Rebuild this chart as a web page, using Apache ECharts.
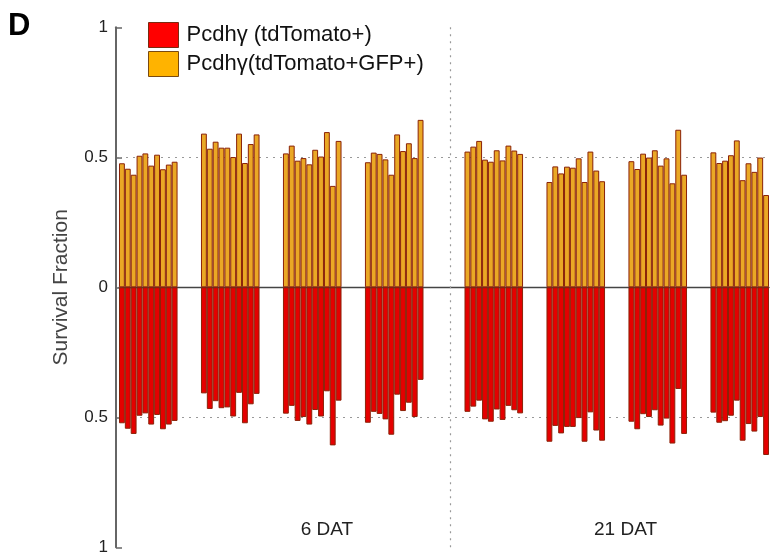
<!DOCTYPE html>
<html>
<head>
<meta charset="utf-8">
<script src="https://cdn.jsdelivr.net/npm/echarts@6/dist/echarts.min.js"></script>
<style>
html,body{margin:0;padding:0;background:#fff;}
#chart{width:772px;height:556px;}
</style>
</head>
<body>
<div id="chart"></div>
<script>
// Survival fraction, Pcdhγ(tdTomato+GFP+) — orange bars (upward), 4 groups of 10 at each time point
const gfp6DAT = [
  [0.477, 0.456, 0.433, 0.506, 0.515, 0.468, 0.510, 0.454, 0.472, 0.483],
  [0.591, 0.533, 0.560, 0.537, 0.537, 0.501, 0.591, 0.478, 0.551, 0.588],
  [0.515, 0.545, 0.487, 0.497, 0.473, 0.529, 0.503, 0.597, 0.390, 0.563],
  [0.481, 0.518, 0.513, 0.492, 0.433, 0.588, 0.524, 0.554, 0.497, 0.644]
];
const gfp21DAT = [
  [0.522, 0.541, 0.563, 0.491, 0.483, 0.527, 0.488, 0.545, 0.526, 0.513],
  [0.405, 0.465, 0.438, 0.464, 0.460, 0.496, 0.405, 0.522, 0.449, 0.408],
  [0.485, 0.455, 0.514, 0.499, 0.527, 0.468, 0.496, 0.400, 0.606, 0.433],
  [0.519, 0.478, 0.487, 0.508, 0.565, 0.412, 0.477, 0.444, 0.499, 0.355]
];
// Survival fraction, Pcdhγ(tdTomato+) — red bars (drawn downward)
const tom6DAT = [
  [0.523, 0.544, 0.564, 0.494, 0.485, 0.528, 0.491, 0.546, 0.528, 0.514],
  [0.408, 0.468, 0.438, 0.465, 0.462, 0.497, 0.406, 0.523, 0.450, 0.410],
  [0.486, 0.456, 0.514, 0.499, 0.528, 0.472, 0.497, 0.400, 0.608, 0.436],
  [0.521, 0.479, 0.487, 0.508, 0.567, 0.413, 0.476, 0.444, 0.499, 0.356]
];
const tom21DAT = [
  [0.479, 0.459, 0.436, 0.508, 0.517, 0.470, 0.510, 0.456, 0.473, 0.485],
  [0.594, 0.533, 0.562, 0.537, 0.537, 0.503, 0.594, 0.481, 0.551, 0.590],
  [0.517, 0.546, 0.488, 0.499, 0.473, 0.532, 0.505, 0.601, 0.391, 0.564],
  [0.482, 0.521, 0.515, 0.494, 0.436, 0.590, 0.526, 0.555, 0.499, 0.645]
];
const timeLabels = ['6 DAT', '21 DAT'];
const seriesNames = ['Pcdhγ (tdTomato+)', 'Pcdhγ(tdTomato+GFP+)'];

// build slot sequence (gaps between groups and between time points)
const GROUP_GAP = 4, SET_GAP = 7;
const gfpData = [], tomData = [], cats = [], dayCats = [];
function pushGap(n){ for(let k=0;k<n;k++){ gfpData.push('-'); tomData.push('-'); cats.push('g'+cats.length); dayCats.push(''); } }
function addSet(gSet, tSet){
  gSet.forEach((grp, i) => {
    if (i > 0) pushGap(GROUP_GAP);
    grp.forEach((v, j) => {
      gfpData.push(v);
      tomData.push(-tSet[i][j]);
      cats.push('b'+cats.length);
      dayCats.push('');
    });
  });
}
addSet(gfp6DAT, tom6DAT);
const dividerIdx = cats.length + Math.floor(SET_GAP/2) + 1;
pushGap(SET_GAP);
addSet(gfp21DAT, tom21DAT);
// time labels sit a bit right of each set's centre, as in the figure
const labelPos = [35, 86];
labelPos.forEach((p, i) => { dayCats[p] = timeLabels[i]; });

const chart = echarts.init(document.getElementById('chart'), null, {renderer: 'canvas'});
const FONT = "'Liberation Sans', Arial, sans-serif";
const barBorder = '#8a2208';
chart.setOption({
  animation: false,
  backgroundColor: '#ffffff',
  textStyle: {fontFamily: FONT},
  grid: {left: 119, right: 3, top: 27.3, bottom: 8.7, containLabel: false},
  graphic: [{
    type: 'text', left: 8, top: 11,
    style: {text: 'D', font: "bold 31px " + FONT, fill: '#000'}
  }],
  legend: {
    orient: 'vertical', left: 143, top: 17,
    itemWidth: 30, itemHeight: 25, itemGap: 3,
    icon: 'rect',
    textStyle: {fontSize: 22, color: '#111', fontFamily: FONT, padding: [0,0,0,3]},
    data: [
      {name: seriesNames[0], itemStyle: {color: '#ff0000', borderColor: '#7a2a10', borderWidth: 1}},
      {name: seriesNames[1], itemStyle: {color: '#ffb300', borderColor: '#7a4a10', borderWidth: 1}}
    ]
  },
  xAxis: [{
    type: 'category', data: cats, boundaryGap: true,
    axisLine: {show: true, onZero: true, lineStyle: {color: '#444', width: 1.3}},
    axisTick: {show: false}, axisLabel: {show: false}, splitLine: {show: false}
  }, {
    type: 'category', data: dayCats, position: 'bottom', boundaryGap: true,
    axisLine: {show: false, onZero: false}, axisTick: {show: false}, splitLine: {show: false},
    axisLabel: {show: true, inside: true, margin: 8, interval: 0, fontSize: 19, color: '#222', fontFamily: FONT}
  }],
  yAxis: {
    type: 'value', min: -1, max: 1, interval: 0.5, offset: 3,
    name: 'Survival Fraction', nameLocation: 'middle', nameGap: 44, nameRotate: 90,
    nameTextStyle: {fontSize: 21, color: '#444', fontFamily: FONT, padding: [0, 0, 0, 0]},
    axisLine: {show: true, lineStyle: {color: '#666', width: 2}},
    axisTick: {show: true, inside: true, length: 6, lineStyle: {color: '#666', width: 1.5}},
    axisLabel: {fontSize: 17, color: '#222', margin: 8, fontFamily: FONT,
      formatter: v => String(Math.abs(v))},
    splitLine: {show: false}
  },
  series: [{
    name: seriesNames[1], type: 'bar', data: gfpData,
    barGap: '-100%', barCategoryGap: '0%', z: 3,
    itemStyle: {color: '#eaa825', borderColor: barBorder, borderWidth: 1},
    markLine: {
      silent: true, symbol: 'none', z: 1, label: {show: false},
      lineStyle: {color: '#999', type: [2, 5], width: 1.2},
      data: [{yAxis: 0.5}, {yAxis: -0.5}, {xAxis: dividerIdx}]
    }
  }, {
    name: seriesNames[0], type: 'bar', data: tomData,
    barGap: '-100%', barCategoryGap: '0%', z: 3,
    itemStyle: {color: '#e50000', borderColor: barBorder, borderWidth: 1}
  }]
});
</script>
</body>
</html>
